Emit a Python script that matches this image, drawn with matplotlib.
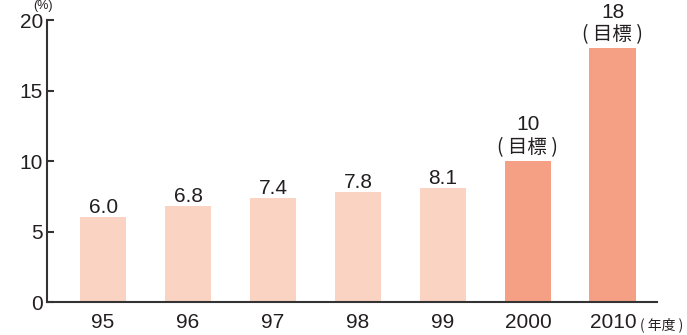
import numpy as np
import matplotlib.pyplot as plt

plt.rcParams['font.family'] = ['Liberation Sans', 'Noto Sans CJK JP', 'DejaVu Sans']

# データ
years = ["95", "96", "97", "98", "99", "2000", "2010"]
values = [6.0, 6.8, 7.4, 7.8, 8.1, 10, 18]
value_labels = ["6.0", "6.8", "7.4", "7.8", "8.1", "10", "18"]
is_target = [False, False, False, False, False, True, True]

light = "#FBD3C2"
dark = "#F5A085"
ink = "#231F20"

fig = plt.figure(figsize=(6.87, 3.35), dpi=100)
ax = fig.add_axes([0.0684, 0.0985, 0.888, 0.8415])

x = np.arange(len(years))
colors = [dark if t else light for t in is_target]
ax.bar(x, values, width=0.55, color=colors, zorder=2)

# 棒の上のラベル
for xi, v, lab, t in zip(x, values, value_labels, is_target):
    if t:
        ax.annotate("( 目標 )", (xi, v), xytext=(0, 2), textcoords="offset points",
                    ha="center", va="bottom", fontsize=14, color=ink,
                    family=["Noto Sans CJK JP"])
        ax.annotate(lab, (xi, v), xytext=(0, 22), textcoords="offset points",
                    ha="center", va="baseline", fontsize=15, color=ink)
    else:
        ax.annotate(lab, (xi, v), xytext=(0, 3), textcoords="offset points",
                    ha="center", va="baseline", fontsize=15, color=ink)

ax.set_xlim(-0.66, 6.52)
ax.set_ylim(0, 20)
ax.set_yticks([0, 5, 10, 15, 20])
ax.set_xticks(x)
ax.set_xticklabels(years)

for s in ["top", "right"]:
    ax.spines[s].set_visible(False)
for s in ["left", "bottom"]:
    ax.spines[s].set_color("#333333")
    ax.spines[s].set_linewidth(1.5)

ax.tick_params(axis="y", direction="in", length=5, width=1.5, color="#333333",
               labelsize=15, labelcolor=ink, pad=3)
ax.tick_params(axis="x", length=0, labelsize=15, labelcolor=ink, pad=8)

fig.text(0.048, 1.0, "(%)", ha="left", va="top", fontsize=9, color=ink)
fig.text(0.932, 0.018, "( 年度 )", ha="left", va="baseline", fontsize=10, color=ink,
         family=["Noto Sans CJK JP"])

fig.savefig("out.png", dpi=100)
